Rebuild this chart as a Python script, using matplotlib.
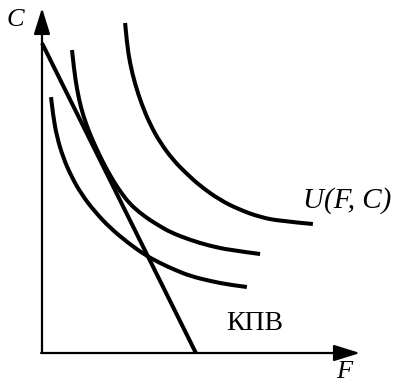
import matplotlib
matplotlib.use("Agg")
import matplotlib.pyplot as plt
from matplotlib.path import Path
from matplotlib.patches import PathPatch

# Budget line (КПВ) endpoints
budget_F = [0.0, 5.13]
budget_C = [10.33, 0.0]

# Indifference curves
outer_F = [2.77, 2.83, 2.93, 3.10, 3.33, 3.60, 3.93, 4.37, 4.83, 5.27, 5.93, 6.60, 7.27, 7.93, 9.03]
outer_C = [11.0, 10.33, 9.67, 8.97, 8.27, 7.63, 7.03, 6.43, 5.97, 5.57, 5.10, 4.77, 4.53, 4.40, 4.30]

middle_F = [1.00, 1.07, 1.17, 1.30, 1.47, 1.67, 1.90, 2.13, 2.40, 2.67, 2.93, 3.27, 3.60, 3.93, 4.27,
            4.93, 5.60, 6.27, 7.27]
middle_C = [10.1, 9.43, 8.77, 8.17, 7.63, 7.13, 6.63, 6.17, 5.70, 5.30, 4.97, 4.67, 4.43, 4.23, 4.03,
            3.77, 3.57, 3.43, 3.30]

inner_F = [0.30, 0.37, 0.50, 0.70, 0.97, 1.33, 1.77, 2.27, 2.87, 3.43, 3.93, 4.43, 4.93, 5.60, 6.27, 6.83]
inner_C = [8.53, 7.90, 7.20, 6.53, 5.90, 5.27, 4.70, 4.17, 3.67, 3.27, 3.00, 2.77, 2.57, 2.40, 2.27, 2.20]

fig = plt.figure(figsize=(4.01, 3.84), dpi=100)
ax = fig.add_axes([0, 0, 1, 1])
ax.set_xlim(-1.4, 11.967)
ax.set_ylim(-1.033, 11.767)
ax.axis("off")

lw = 2.9


def smooth_curve(xs, ys):
    pts = list(zip(xs, ys))
    verts = [pts[0]]
    codes = [Path.MOVETO]
    for i in range(1, len(pts) - 1):
        mid = ((pts[i][0] + pts[i + 1][0]) / 2, (pts[i][1] + pts[i + 1][1]) / 2)
        if i == len(pts) - 2:
            mid = pts[-1]
        verts += [pts[i], mid]
        codes += [Path.CURVE3, Path.CURVE3]
    return PathPatch(Path(verts, codes), facecolor="none", edgecolor="black", lw=lw,
                     capstyle="butt", joinstyle="round")


for xs, ys in [(outer_F, outer_C), (middle_F, middle_C), (inner_F, inner_C)]:
    ax.add_patch(smooth_curve(xs, ys))
ax.plot(budget_F, budget_C, color="black", lw=lw, solid_capstyle="butt")

arrow = dict(arrowstyle="-|>,head_length=0.8,head_width=0.25", color="black", lw=1.6,
             mutation_scale=20, shrinkA=0, shrinkB=0)
ax.annotate("", xy=(0, 11.5), xytext=(0, 0), arrowprops=arrow)
ax.annotate("", xy=(10.6, 0), xytext=(-0.03, 0), arrowprops=arrow)

serif = ["Liberation Serif", "DejaVu Serif"]
ax.text(-0.9, 11.1, "C", fontsize=19, style="italic", family=serif, ha="center", va="center")
ax.text(10.07, -1.01, "F", fontsize=19, style="italic", family=serif, ha="center", va="bottom")
ax.text(8.7, 5.07, "U(F, C)", fontsize=21, style="italic", family=serif, ha="left", va="center")
ax.text(7.1, 1.0, "КПВ", fontsize=20, family=serif, ha="center", va="center")

fig.savefig("out.png", dpi=100)
